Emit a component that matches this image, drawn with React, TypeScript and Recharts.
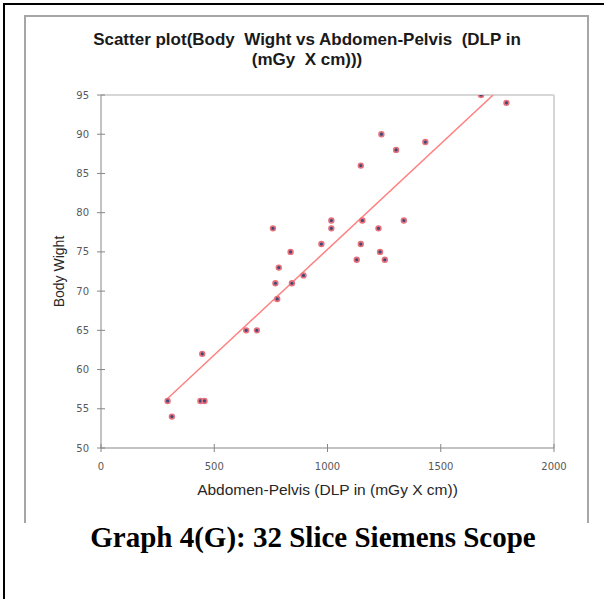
import React from 'react';
import { ScatterChart, Scatter, XAxis, YAxis, ReferenceLine, Label } from 'recharts';

// DLP (mGy x cm) and body weight
const dlp = [1678, 1790, 1238, 1432, 1303, 1147, 1017, 1154, 1337, 1017, 1225, 759, 973, 1147, 1232, 837, 1129, 1253, 785, 894, 770, 843, 778, 641, 688, 447, 294, 439, 457, 313];
const bodyWeight = [95, 94, 90, 89, 88, 86, 79, 79, 79, 78, 78, 78, 76, 76, 75, 75, 74, 74, 73, 72, 71, 71, 69, 65, 65, 62, 56, 56, 56, 54];
const xTicks = [0, 500, 1000, 1500, 2000];
const yTicks = [50, 55, 60, 65, 70, 75, 80, 85, 90, 95];

const points = dlp.map((x, i) => ({ x, y: bodyWeight[i] }));

// least squares trendline, clipped to the y range
const n = dlp.length;
const mx = dlp.reduce((a, b) => a + b, 0) / n;
const my = bodyWeight.reduce((a, b) => a + b, 0) / n;
let sxy = 0;
let sxx = 0;
dlp.forEach((x, i) => {
  sxy += (x - mx) * (bodyWeight[i] - my);
  sxx += (x - mx) * (x - mx);
});
const slope = sxy / sxx;
const icept = my - slope * mx;
const yMax = yTicks[yTicks.length - 1];
const xLo = Math.min(...dlp);
let xHi = Math.max(...dlp);
if (slope * xHi + icept > yMax) xHi = (yMax - icept) / slope;
const trend = [
  { x: xLo, y: slope * xLo + icept },
  { x: xHi, y: slope * xHi + icept },
];

const axisColor = '#868686';
const tickFont = { fontFamily: 'DejaVu Sans', fontSize: 10, fill: '#595959' };

const YTick = (props: any) => {
  const { x, y, payload } = props;
  return (
    <g>
      <line x1={x - 4} x2={x + 4} y1={y} y2={y} stroke={axisColor} />
      <text x={x - 12} y={y + 3.5} textAnchor="end" {...tickFont}>{payload.value}</text>
    </g>
  );
};

const XTick = (props: any) => {
  const { x, y, payload } = props;
  return (
    <g>
      <line x1={x} x2={x} y1={y - 4} y2={y + 4} stroke={axisColor} />
      <text x={x} y={y + 22} textAnchor="middle" {...tickFont}>{payload.value}</text>
    </g>
  );
};

const Dot = (props: any) => (
  <circle cx={props.cx} cy={props.cy} r={2.4} fill="#3f4a7a" stroke="#e8707a" strokeWidth={1.6} />
);

const App: React.FC = () => {
  return (
    <div style={{ position: 'absolute', left: 0, top: 0, width: 604, height: 599, background: '#fff', overflow: 'hidden' }}>
      <div style={{ position: 'absolute', left: 3, top: 3, width: 620, height: 620, borderLeft: '2px solid #000', borderTop: '2px solid #000' }} />
      <div style={{ position: 'absolute', left: 24, top: 15, width: 561, height: 506, borderLeft: '2px solid #a6a6a6', borderTop: '2px solid #a6a6a6', borderRight: '2px solid #a6a6a6' }} />
      <div style={{ position: 'absolute', left: 0, top: 0 }}>
        <ScatterChart width={604} height={520} margin={{ top: 95, right: 50, bottom: 42, left: 71 }}>
          <XAxis
            type="number"
            dataKey="x"
            domain={[0, 2000]}
            ticks={xTicks}
            tickLine={false}
            tickSize={0}
            tickMargin={0}
            height={30}
            stroke={axisColor}
            tick={<XTick />}
          >
            <Label
              content={(p: any) => (
                <text x={p.viewBox.x + p.viewBox.width / 2} y={p.viewBox.y + 47} textAnchor="middle" fontFamily="Liberation Sans" fontSize={15.5} fill="#262626">
                  Abdomen-Pelvis (DLP in (mGy X cm))
                </text>
              )}
            />
          </XAxis>
          <YAxis
            type="number"
            dataKey="y"
            domain={[50, 95]}
            ticks={yTicks}
            allowDataOverflow
            tickLine={false}
            tickSize={0}
            tickMargin={0}
            width={30}
            stroke={axisColor}
            tick={<YTick />}
          >
            <Label
              content={(p: any) => {
                const cx = p.viewBox.x - 12;
                const cy = p.viewBox.y + p.viewBox.height / 2;
                return (
                  <text x={cx} y={cy} transform={`rotate(-90 ${cx} ${cy})`} textAnchor="middle" dominantBaseline="central" fontFamily="Liberation Sans" fontSize={14} fill="#262626">
                    Body Wight
                  </text>
                );
              }}
            />
          </YAxis>
          <ReferenceLine y={95} stroke="#d6d6d6" strokeWidth={2} />
          <ReferenceLine x={2000} stroke="#d6d6d6" strokeWidth={2} />
          <Scatter data={trend} line={{ stroke: '#ff8080', strokeWidth: 1.5 }} shape={() => <g />} isAnimationActive={false} />
          <Scatter data={points} shape={<Dot />} isAnimationActive={false} />
        </ScatterChart>
      </div>
      <div style={{ position: 'absolute', left: 0, width: 614, top: 30, textAlign: 'center', fontFamily: 'Liberation Sans', fontWeight: 'bold', fontSize: 17, lineHeight: '20px', color: '#1a1a1a' }}>
        Scatter plot(Body&nbsp; Wight vs Abdomen-Pelvis&nbsp; (DLP in
        <br />
        (mGy&nbsp; X cm)))
      </div>
      <div style={{ position: 'absolute', left: 0, width: 626, top: 521, textAlign: 'center', fontFamily: 'Liberation Serif', fontWeight: 'bold', fontSize: 29, color: '#000' }}>
        Graph 4(G): 32 Slice Siemens Scope
      </div>
    </div>
  );
};

export default App;
